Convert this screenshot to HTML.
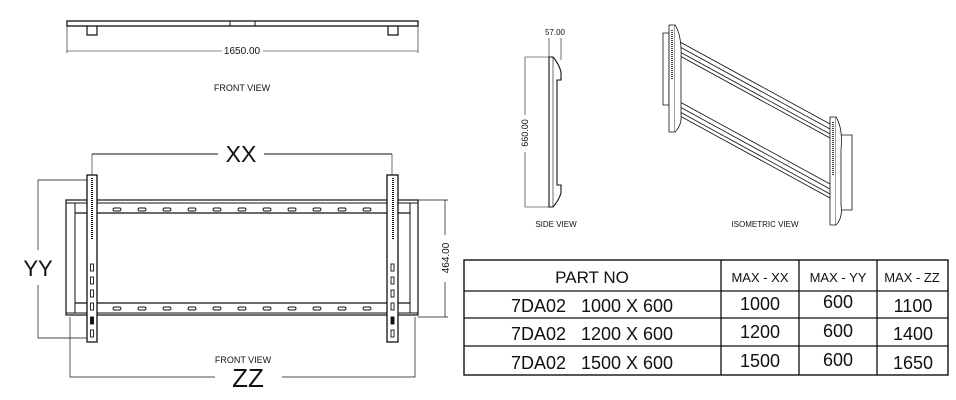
<!DOCTYPE html>
<html><head><meta charset="utf-8"><style>
html,body{margin:0;padding:0;background:#fff}
svg{display:block}
text{font-family:"Liberation Sans",sans-serif;fill:#111}
</style></head><body>
<svg width="956" height="400" viewBox="0 0 956 400" xmlns="http://www.w3.org/2000/svg">
<g stroke="#111" fill="none" stroke-width="1">
<!-- top front view -->
<rect x="67" y="21" width="351" height="5" stroke-width="1.3"/>
<line x1="230" y1="21" x2="230" y2="26"/><line x1="255" y1="21" x2="255" y2="26"/>
<path d="M87 26 V35 H97 V26 M388 26 V35 H398 V26" stroke-width="1.2"/>
<line x1="67" y1="26" x2="67" y2="53" stroke-width="0.6"/><line x1="418" y1="26" x2="418" y2="53" stroke-width="0.6"/>
<line x1="67" y1="51" x2="222" y2="51" stroke-width="0.6"/><line x1="263" y1="51" x2="418" y2="51" stroke-width="0.6"/>

<!-- main front view -->
<line x1="92" y1="154" x2="218" y2="154"/><line x1="264" y1="154" x2="392" y2="154"/>
<line x1="92" y1="154" x2="92" y2="176" stroke-width="0.6"/><line x1="392" y1="154" x2="392" y2="176" stroke-width="0.6"/>
<rect x="66" y="200" width="352" height="115" stroke-width="1.2"/>
<line x1="66" y1="203" x2="418" y2="203"/>
<line x1="75" y1="213" x2="410" y2="213" stroke-width="1.3"/>
<line x1="75" y1="303" x2="410" y2="303" stroke-width="1.3"/>
<line x1="66" y1="313" x2="418" y2="313"/>
<line x1="75" y1="203" x2="75" y2="313"/><line x1="410" y1="203" x2="410" y2="313"/>
<g stroke-width="0.9">
<rect x="113" y="208" width="8" height="3" rx="1.5"/><rect x="138" y="208" width="8" height="3" rx="1.5"/><rect x="163" y="208" width="8" height="3" rx="1.5"/><rect x="188" y="208" width="8" height="3" rx="1.5"/><rect x="213" y="208" width="8" height="3" rx="1.5"/><rect x="238" y="208" width="8" height="3" rx="1.5"/><rect x="263" y="208" width="8" height="3" rx="1.5"/><rect x="288" y="208" width="8" height="3" rx="1.5"/><rect x="313" y="208" width="8" height="3" rx="1.5"/><rect x="338" y="208" width="8" height="3" rx="1.5"/><rect x="363" y="208" width="8" height="3" rx="1.5"/>
<rect x="113" y="307" width="8" height="3" rx="1.5"/><rect x="138" y="307" width="8" height="3" rx="1.5"/><rect x="163" y="307" width="8" height="3" rx="1.5"/><rect x="188" y="307" width="8" height="3" rx="1.5"/><rect x="213" y="307" width="8" height="3" rx="1.5"/><rect x="238" y="307" width="8" height="3" rx="1.5"/><rect x="263" y="307" width="8" height="3" rx="1.5"/><rect x="288" y="307" width="8" height="3" rx="1.5"/><rect x="313" y="307" width="8" height="3" rx="1.5"/><rect x="338" y="307" width="8" height="3" rx="1.5"/><rect x="363" y="307" width="8" height="3" rx="1.5"/>
</g>
<rect x="87" y="175" width="10" height="167" fill="#fff" stroke-width="1.3"/>
<rect x="387" y="175" width="11" height="167" fill="#fff" stroke-width="1.3"/>
<line x1="92" y1="178" x2="92" y2="240" stroke-width="2" stroke-dasharray="1 1"/>
<line x1="393" y1="178" x2="393" y2="240" stroke-width="2" stroke-dasharray="1 1"/>
<g stroke-width="0.9">
<rect x="90.5" y="264" width="3" height="7"/><rect x="90.5" y="277" width="3" height="7"/><rect x="90.5" y="290" width="3" height="7"/><rect x="90.5" y="303" width="3" height="7"/><rect x="90.5" y="317" width="3" height="7" fill="#111"/><rect x="90.5" y="330" width="3" height="7"/>
<rect x="391" y="264" width="3" height="7"/><rect x="391" y="277" width="3" height="7"/><rect x="391" y="290" width="3" height="7"/><rect x="391" y="303" width="3" height="7"/><rect x="391" y="317" width="3" height="7" fill="#111"/><rect x="391" y="330" width="3" height="7"/>
</g>
<!-- YY -->
<path d="M87 180 H38 V250 M38 285 V338 H87" stroke-width="0.7"/>
<!-- 464 -->
<path d="M418 200 H448 M418 317 H448 M445 200 V235 M445 282 V317" stroke-width="0.7"/>
<!-- ZZ -->
<path d="M70 317 V377 H215 M282 377 H415 V317" stroke-width="0.7"/>

<!-- side view -->
<path d="M549 38 V58 M561 38 V60" stroke-width="0.6"/>
<path d="M549 57 H553 Q559 64 561 72 V80 H557 V185 H561 V193 Q559 200 553 207 H549 Z" stroke-width="1.1"/>
<line x1="553" y1="57" x2="553" y2="207" stroke-width="0.6"/>
<path d="M549 57 H525 V115 M525 152 V207 H549" stroke-width="0.6"/>

<!-- isometric -->
<g stroke-width="0.8">
<path d="M663 33 H669 V105 H663 Z"/>
<path d="M680 42 L830 124 M680 47 L830 129 M680 52 L830 134 M680 56 L830 138"/>
<path d="M680 102 L830 184 M680 107 L830 189 M680 112 L830 194 M680 116 L830 198"/>
<path d="M669 25 H675 V132 H669 Z" fill="#fff"/>
<path d="M675 25 Q682 35 681 60 V115 Q682 125 675 132" fill="#fff"/>
<line x1="672" y1="30" x2="672" y2="80" stroke-width="1.6" stroke-dasharray="1 1"/>
<path d="M840 135 H852 V210 H840" />
<path d="M830 117 H836 V225 H830 Z" fill="#fff"/>
<path d="M836 117 Q843 128 841 150 V205 Q843 218 836 225" fill="#fff"/>
<line x1="833" y1="122" x2="833" y2="175" stroke-width="1.6" stroke-dasharray="1 1"/>
</g>

<!-- table -->
<rect x="464" y="260" width="484" height="115" stroke-width="1.4"/>
<path d="M464 291 H948 M464 318 H948 M464 346 H948 M721 260 V375 M799 260 V375 M877 260 V375" stroke-width="1.3"/>
</g>

<g text-anchor="middle">
<text x="242" y="54" font-size="10">1650.00</text>
<text x="242" y="91" font-size="9">FRONT VIEW</text>
<text x="241" y="162" font-size="23">XX</text>
<text x="38" y="276" font-size="22">YY</text>
<text x="0" y="0" font-size="10" transform="translate(449,258) rotate(-90)">464.00</text>
<text x="243" y="363" font-size="9">FRONT VIEW</text>
<text x="248" y="387" font-size="26">ZZ</text>
<text x="555" y="35" font-size="8">57.00</text>
<text x="0" y="0" font-size="9" transform="translate(528,133) rotate(-90)">660.00</text>
<text x="556" y="227" font-size="8">SIDE VIEW</text>
<text x="765" y="227" font-size="8">ISOMETRIC VIEW</text>
<text x="592" y="283" font-size="17">PART NO</text>
<text x="760" y="282" font-size="13">MAX - XX</text>
<text x="838" y="282" font-size="13">MAX - YY</text>
<text x="912" y="282" font-size="13">MAX - ZZ</text>
<text x="592" y="312" font-size="18" xml:space="preserve">7DA02   1000 X 600</text>
<text x="592" y="340" font-size="18" xml:space="preserve">7DA02   1200 X 600</text>
<text x="592" y="369" font-size="18" xml:space="preserve">7DA02   1500 X 600</text>
<text x="760" y="310" font-size="18">1000</text>
<text x="838" y="308" font-size="18">600</text>
<text x="913" y="312" font-size="18">1100</text>
<text x="760" y="338" font-size="18">1200</text>
<text x="838" y="337" font-size="18">600</text>
<text x="913" y="340" font-size="18">1400</text>
<text x="760" y="367" font-size="18">1500</text>
<text x="838" y="366" font-size="18">600</text>
<text x="913" y="369" font-size="18">1650</text>
</g>
</svg>
</body></html>
